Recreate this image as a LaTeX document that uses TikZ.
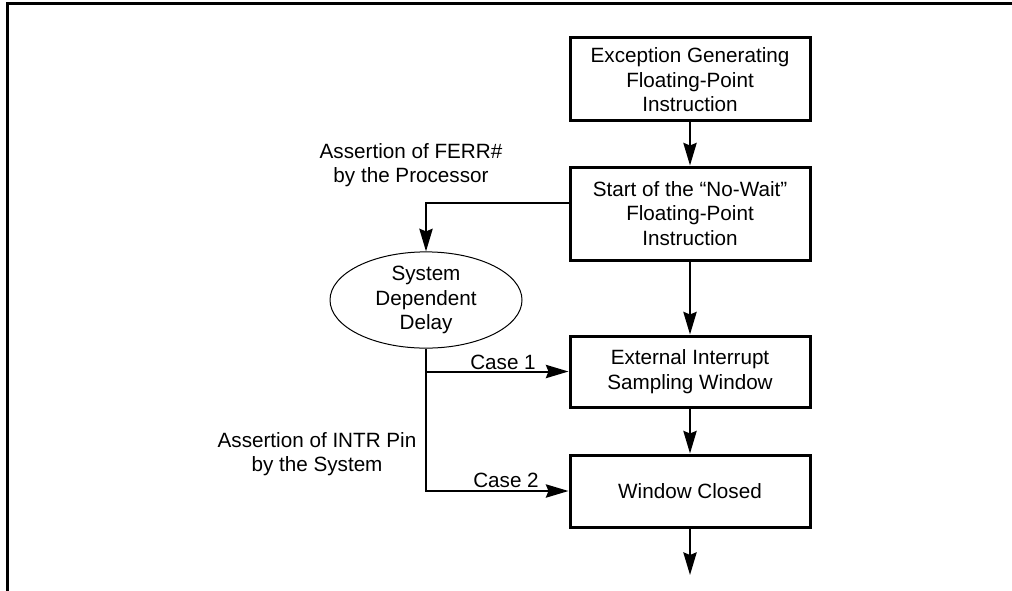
\documentclass[tikz,border=0pt]{standalone}
\usepackage{fontspec}
\setmainfont{Liberation Sans}
\usetikzlibrary{arrows.meta,shapes.geometric}
\begin{document}
\begin{tikzpicture}[x=0.75pt,y=-0.75pt,
  every node/.style={font=\fontsize{15.5}{18.5}\selectfont, align=center, inner sep=0pt},
  box/.style={draw, line width=2.25pt, minimum width=180pt},
  oval/.style={draw, ellipse, line width=0.75pt, minimum width=144pt, minimum height=72pt},
  arr/.style={line width=1.5pt, -{Stealth[length=17pt,width=10pt,inset=2pt]}}]
\useasboundingbox (0,0) rectangle (1012,590);
\draw[line width=2.25pt] (7.5,595) -- (7.5,3) -- (1015,3);
\node[box, minimum height=62.25pt] (b1) at (690,78.5) {\strut Exception Generating\\Floating-Point\\Instruction};
\node[box, minimum height=69.75pt] (b2) at (690,213.5) {Start of the “No-Wait”\\Floating-Point\\Instruction};
\node[box, minimum height=53.25pt] (b3) at (690,371.5) {External Interrupt\\Sampling Window};
\node[box, minimum height=54pt] (b4) at (690,491) {Window Closed};
\node[oval] (ell) at (426,300) {System\\Dependent\\Delay};
\coordinate (out) at (690,575);
\node (l1) at (411,165) {Assertion of FERR\#\\by the Processor};
\node (l2) at (317,454) {Assertion of INTR Pin\\by the System};
\node (c1) at (503,362) {Case 1};
\node (c2) at (506,480) {Case 2};
\draw[arr] (b1) -- (b2);
\draw[arr] ([yshift=7.9pt]b2.west) -| (ell.north);
\draw[arr] (b2) -- (b3);
\draw[arr] (b3) -- (b4);
\draw[arr] (b4) -- (out);
\draw[arr] (ell.south) |- (b4.west);
\draw[arr] (ell.south |- b3.west) -- (b3.west);
\end{tikzpicture}
\end{document}
